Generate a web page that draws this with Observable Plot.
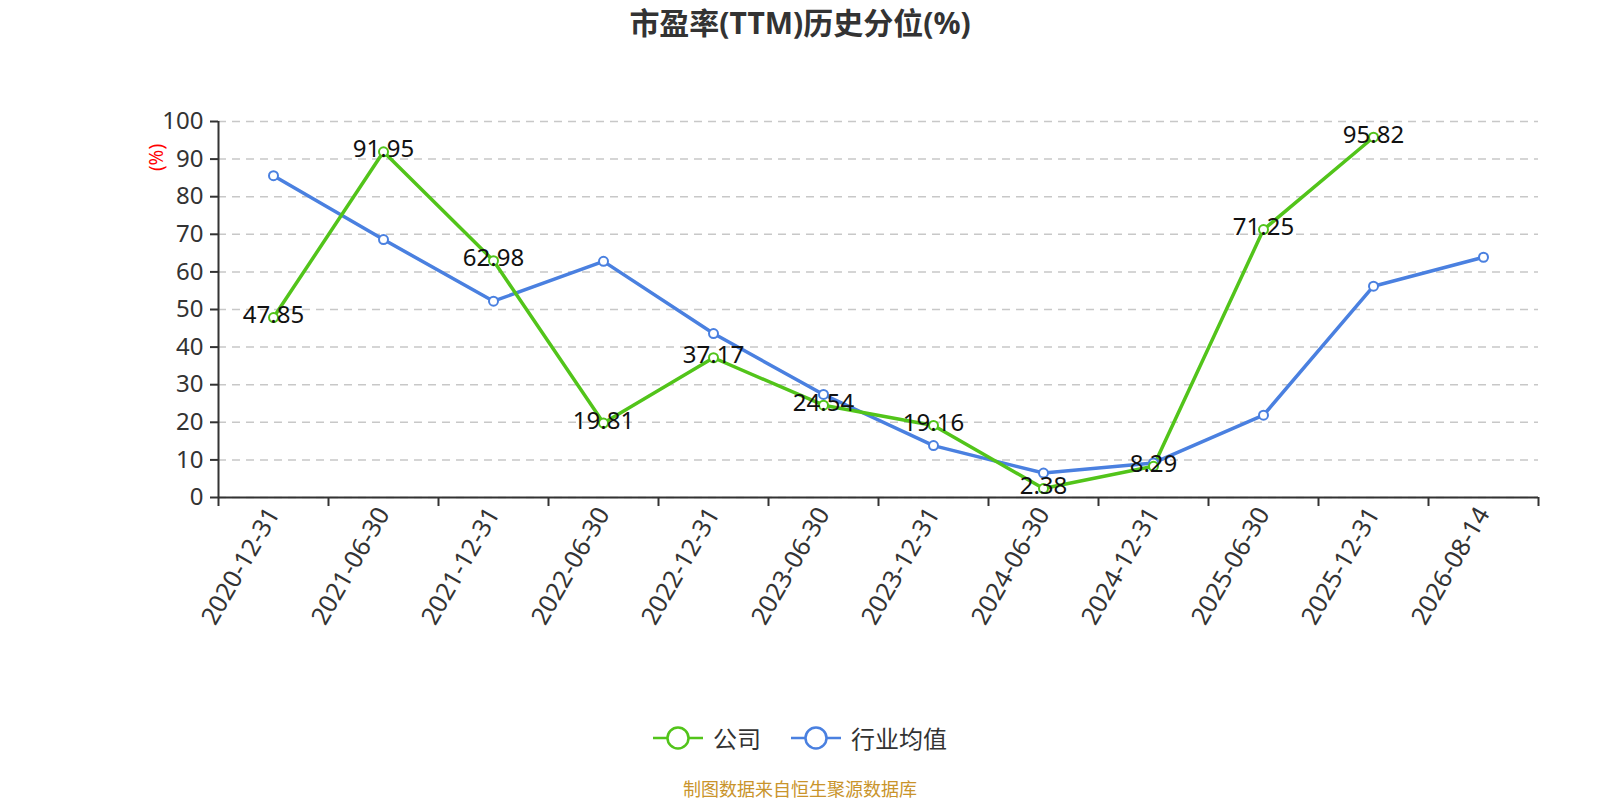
<!DOCTYPE html>
<html><head><meta charset="utf-8">
<script src="https://cdn.jsdelivr.net/npm/d3@7"></script>
<script src="https://cdn.jsdelivr.net/npm/@observablehq/plot@0.6"></script>
<style>
body{margin:0;background:#fff;width:1600px;height:800px;overflow:hidden;font-family:"Noto Sans","Noto Sans CJK SC",sans-serif;}
#title{height:50px;line-height:46px;text-align:center;font-size:30px;font-weight:bold;color:#333;}
#legend{height:75px;display:flex;justify-content:center;align-items:center;gap:30px;font-size:24px;color:#333;box-sizing:border-box;}
.item{display:flex;align-items:center;gap:10px;}
#footer{text-align:center;font-size:18px;color:#c9942b;line-height:26px;margin-top:1px;}
</style></head>
<body>
<div id="title">市盈率(TTM)历史分位(%)</div>
<div id="chart"></div>
<div id="legend"></div>
<div id="footer">制图数据来自恒生聚源数据库</div>
<script>
const dates = ["2020-12-31","2021-06-30","2021-12-31","2022-06-30","2022-12-31","2023-06-30","2023-12-31","2024-06-30","2024-12-31","2025-06-30","2025-12-31","2026-08-14"];
const company = [47.85,91.95,62.98,19.81,37.17,24.54,19.16,2.38,8.29,71.25,95.82,null];
const industry = [85.6,68.6,52.2,62.8,43.6,27.4,13.8,6.5,9.2,21.9,56.2,63.9];
const yTicks = [0,10,20,30,40,50,60,70,80,90,100];
const seriesNames = ["公司","行业均值"];
const colors = ["#52c41a","#4a80e0"];

const rows = [];
dates.forEach((d,i)=>{
  rows.push({date:d, series:seriesNames[0], value:company[i]});
  rows.push({date:d, series:seriesNames[1], value:industry[i]});
});
const compRows = rows.filter(r=>r.series===seriesNames[0] && r.value!=null);
const indRows = rows.filter(r=>r.series===seriesNames[1]);

const W = 1600, H = 650, mL = 218, mR = 62, mT = 71, mB = 203;
const bw = (W - mL - mR) / dates.length;
const font = '"Noto Sans","Noto Sans CJK SC",sans-serif';

const chart = Plot.plot({
  width: W, height: H,
  marginLeft: mL, marginRight: mR, marginTop: mT, marginBottom: mB,
  style: {fontFamily: font, background: "#fff"},
  x: {type: "band", domain: dates, padding: 0},
  y: {domain: [0,100]},
  color: {domain: seriesNames, range: colors},
  marks: [
    Plot.gridY(yTicks, {stroke: "#c8c8c8", strokeOpacity: 1, strokeWidth: 1.5, strokeDasharray: "8,6"}),
    Plot.axisY(yTicks, {tickSize: 8, tickPadding: 7, fontSize: 24, fill: "#333", stroke: "#333", strokeWidth: 2, label: null}),
    Plot.axisX({ticks: dates, text: null, tickSize: 9, dx: -bw/2, stroke: "#333", strokeWidth: 2, label: null}),
    Plot.axisX({ticks: [dates[dates.length-1]], text: null, tickSize: 9, dx: bw/2, stroke: "#333", strokeWidth: 2, label: null}),
    Plot.axisX({ticks: dates, tickSize: 0, tickPadding: 12, tickRotate: -60, fontSize: 25, fill: "#333", label: null}),
    Plot.ruleX([dates[0]], {dx: -bw/2, stroke: "#333", strokeWidth: 2}),
    Plot.ruleY([0], {stroke: "#333", strokeWidth: 2}),
    Plot.line(indRows, {x: "date", y: "value", stroke: "series", strokeWidth: 3.5}),
    Plot.line(compRows, {x: "date", y: "value", stroke: "series", strokeWidth: 3.5}),
    Plot.dot(indRows, {x: "date", y: "value", stroke: "series", fill: "#fff", r: 4.5, strokeWidth: 2}),
    Plot.dot(compRows, {x: "date", y: "value", stroke: "series", fill: "#fff", r: 4.5, strokeWidth: 2}),
    Plot.text(compRows, {x: "date", y: "value", text: d => d.value.toFixed(2), fontSize: 24, fill: "#111", lineAnchor: "middle", dy: -2}),
    Plot.text(["(%)"], {frameAnchor: "top-left", dx: -62, dy: 36, rotate: -90, fill: "red", fontSize: 19, textAnchor: "middle", lineAnchor: "middle"})
  ]
});
document.getElementById("chart").appendChild(chart);

const legend = document.getElementById("legend");
seriesNames.forEach((name,i)=>{
  const item = document.createElement("div");
  item.className = "item";
  item.innerHTML = `<svg width="50" height="26"><line x1="0" y1="13" x2="50" y2="13" stroke="${colors[i]}" stroke-width="2.5"/><circle cx="25" cy="13" r="10.5" fill="#fff" stroke="${colors[i]}" stroke-width="2.5"/></svg><span>${name}</span>`;
  legend.appendChild(item);
});
</script>
</body></html>
